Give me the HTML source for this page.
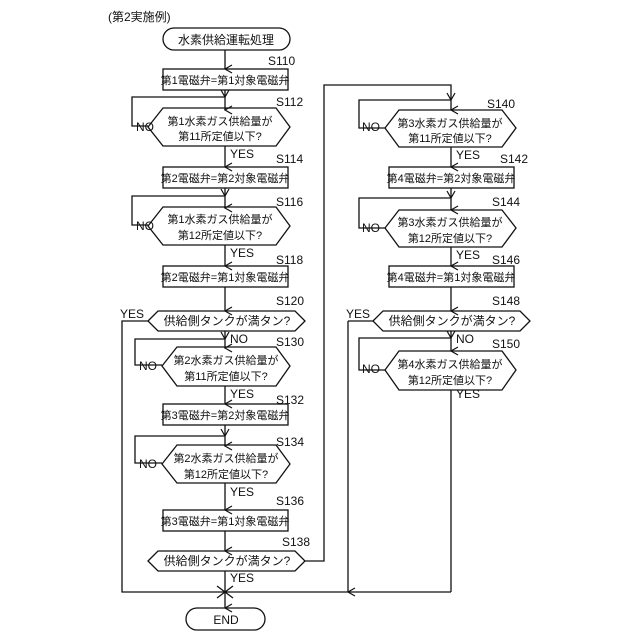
<!DOCTYPE html><html><head><meta charset="utf-8"><style>body{margin:0;background:#fff}svg{display:block}text{font-family:"Liberation Sans","Noto Sans CJK JP",sans-serif;fill:#111}</style></head><body>
<svg width="640" height="640" viewBox="0 0 640 640" xmlns="http://www.w3.org/2000/svg">
<defs><marker id="a" markerWidth="10" markerHeight="10" refX="5" refY="8" orient="auto" markerUnits="userSpaceOnUse"><path d="M1,1 L5,8 L9,1" fill="none" stroke="#111" stroke-width="1.2"/></marker></defs>
<g stroke="#111" stroke-width="1.3" fill="none">
<text x="108" y="21" font-size="12" stroke="none">(第2実施例)</text>
<rect x="163" y="28" width="127" height="22" rx="11"/>
<line x1="225" y1="50" x2="225" y2="69" marker-end="url(#a)"/>
<rect x="163" y="69" width="125" height="21"/>
<line x1="225" y1="90" x2="225" y2="110" marker-end="url(#a)"/>
<polyline points="148,126 132,126 132,97 225,97" marker-end="url(#a)"/>
<polygon points="148,127 163,108 276,108 290,127 276,146 163,146"/>
<line x1="225" y1="146" x2="225" y2="167" marker-end="url(#a)"/>
<rect x="163" y="167" width="125" height="21"/>
<line x1="225" y1="188" x2="225" y2="208" marker-end="url(#a)"/>
<polyline points="148,225 132,225 132,196 225,196" marker-end="url(#a)"/>
<polygon points="148,226 163,207 276,207 290,226 276,245 163,245"/>
<line x1="225" y1="245" x2="225" y2="266" marker-end="url(#a)"/>
<rect x="163" y="266" width="125" height="21"/>
<line x1="225" y1="287" x2="225" y2="311" marker-end="url(#a)"/>
<polygon points="148,321 158,311 295,311 305,321 295,331 158,331"/>
<polyline points="148,321 122,321 122,592 451,592"/>
<line x1="225" y1="331" x2="225" y2="348" marker-end="url(#a)"/>
<polyline points="162,365 135,365 135,339 225,339" marker-end="url(#a)"/>
<polygon points="162,366 177,347 276,347 290,366 276,386 177,386"/>
<line x1="225" y1="386" x2="225" y2="404" marker-end="url(#a)"/>
<rect x="163" y="404" width="125" height="21"/>
<line x1="225" y1="425" x2="225" y2="446" marker-end="url(#a)"/>
<polyline points="162,463 135,463 135,436 225,436" marker-end="url(#a)"/>
<polygon points="162,464 177,445 276,445 290,464 276,483 177,483"/>
<line x1="225" y1="483" x2="225" y2="510" marker-end="url(#a)"/>
<rect x="163" y="510" width="125" height="21"/>
<line x1="225" y1="531" x2="225" y2="551" marker-end="url(#a)"/>
<polygon points="148,561 158,551 295,551 305,561 295,571 158,571"/>
<polyline points="305,561 324,561 324,85 451,85 451,110" marker-end="url(#a)"/>
<line x1="225" y1="571" x2="225" y2="608" marker-end="url(#a)"/>
<line x1="217" y1="586" x2="233" y2="598"/><line x1="217" y1="598" x2="233" y2="586"/>
<rect x="186" y="608" width="79" height="22" rx="11"/>
<polyline points="385,128 359,128 359,100 451,100" marker-end="url(#a)"/>
<polygon points="385,128 399,110 502,110 516,128 502,147 399,147"/>
<line x1="451" y1="147" x2="451" y2="167" marker-end="url(#a)"/>
<rect x="389" y="167" width="125" height="21"/>
<line x1="451" y1="188" x2="451" y2="210" marker-end="url(#a)"/>
<polyline points="385,228 359,228 359,198 451,198" marker-end="url(#a)"/>
<polygon points="385,228 399,210 502,210 516,228 502,247 399,247"/>
<line x1="451" y1="247" x2="451" y2="266" marker-end="url(#a)"/>
<rect x="389" y="266" width="125" height="21"/>
<line x1="451" y1="287" x2="451" y2="311" marker-end="url(#a)"/>
<polygon points="373,321 383,311 520,311 530,321 520,331 383,331"/>
<line x1="373" y1="321" x2="348" y2="321"/>
<line x1="348" y1="321" x2="348" y2="592" marker-end="url(#a)"/>
<line x1="451" y1="331" x2="451" y2="351" marker-end="url(#a)"/>
<polyline points="385,370 359,370 359,338 451,338" marker-end="url(#a)"/>
<polygon points="385,370 399,351 502,351 516,370 502,390 399,390"/>
<line x1="451" y1="390" x2="451" y2="592"/>
</g>
<g font-size="12" text-anchor="middle">
<text x="226" y="44">水素供給運転処理</text>
<text x="225" y="84" font-size="11">第1電磁弁=第1対象電磁弁</text>
<text x="220" y="125" font-size="11">第1水素ガス供給量が</text><text x="220" y="140" font-size="11">第11所定値以下?</text>
<text x="225" y="182" font-size="11">第2電磁弁=第2対象電磁弁</text>
<text x="220" y="223" font-size="11">第1水素ガス供給量が</text><text x="220" y="239" font-size="11">第12所定値以下?</text>
<text x="225" y="281" font-size="11">第2電磁弁=第1対象電磁弁</text>
<text x="227" y="325">供給側タンクが満タン?</text>
<text x="226" y="364" font-size="11">第2水素ガス供給量が</text><text x="226" y="380" font-size="11">第11所定値以下?</text>
<text x="225" y="419" font-size="11">第3電磁弁=第2対象電磁弁</text>
<text x="226" y="462" font-size="11">第2水素ガス供給量が</text><text x="226" y="478" font-size="11">第12所定値以下?</text>
<text x="225" y="525" font-size="11">第3電磁弁=第1対象電磁弁</text>
<text x="227" y="565">供給側タンクが満タン?</text>
<text x="226" y="624">END</text>
<text x="450" y="127" font-size="11">第3水素ガス供給量が</text><text x="450" y="142" font-size="11">第11所定値以下?</text>
<text x="451" y="182" font-size="11">第4電磁弁=第2対象電磁弁</text>
<text x="450" y="226" font-size="11">第3水素ガス供給量が</text><text x="450" y="242" font-size="11">第12所定値以下?</text>
<text x="451" y="281" font-size="11">第4電磁弁=第1対象電磁弁</text>
<text x="452" y="325">供給側タンクが満タン?</text>
<text x="450" y="368" font-size="11">第4水素ガス供給量が</text><text x="450" y="384" font-size="11">第12所定値以下?</text>
</g>
<g font-size="12">
<text x="268" y="65">S110</text><text x="276" y="106">S112</text><text x="276" y="163">S114</text><text x="276" y="206">S116</text><text x="276" y="264">S118</text><text x="276" y="305">S120</text><text x="276" y="346">S130</text><text x="276" y="404">S132</text><text x="276" y="446">S134</text><text x="276" y="505">S136</text><text x="282" y="546">S138</text>
<text x="487" y="108">S140</text><text x="500" y="163">S142</text><text x="492" y="206">S144</text><text x="492" y="264">S146</text><text x="492" y="305">S148</text><text x="492" y="348">S150</text>
<text x="136" y="131">NO</text><text x="136" y="230">NO</text><text x="139" y="370">NO</text><text x="139" y="468">NO</text>
<text x="362" y="131">NO</text><text x="362" y="232">NO</text><text x="362" y="373">NO</text>
<text x="230" y="158">YES</text><text x="230" y="257">YES</text><text x="230" y="398">YES</text><text x="230" y="496">YES</text><text x="230" y="582">YES</text>
<text x="120" y="318">YES</text><text x="230" y="343">NO</text>
<text x="456" y="159">YES</text><text x="456" y="259">YES</text><text x="456" y="398">YES</text>
<text x="346" y="318">YES</text><text x="456" y="343">NO</text>
</g>
</svg></body></html>
